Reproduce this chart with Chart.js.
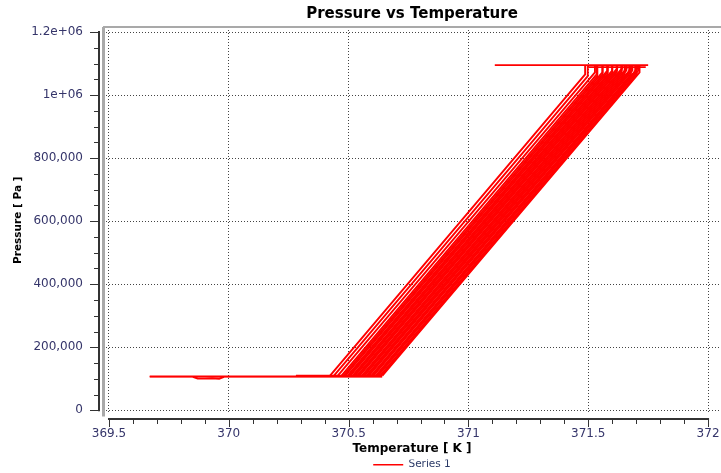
<!DOCTYPE html>
<html><head><meta charset="utf-8">
<script src="https://cdn.jsdelivr.net/npm/chart.js@4"></script>
<style>html,body{margin:0;padding:0;background:#fff;overflow:hidden;} #wrap{width:721px;height:473px;}</style>
</head><body><div id="wrap"><canvas id="c" width="721" height="473"></canvas></div>
<script>
const seriesName = 'Series 1';
const chartTitle = 'Pressure vs Temperature';
const xTitle = 'Temperature [ K ]';
const yTitle = 'Pressure [ Pa ]';

const xTicks = [369.5, 370, 370.5, 371, 371.5, 372];
const xTickLabels = ['369.5', '370', '370.5', '371', '371.5', '372'];
const yTicks = [0, 200000, 400000, 600000, 800000, 1000000, 1200000];
const yTickLabels = ['0', '200,000', '400,000', '600,000', '800,000', '1e+06', '1.2e+06'];

// lower plateau lines
const lowT = [369.67, 370.64];
const lowP = [108000, 108000];
const lowT2 = [369.67, 370.64];
const lowP2 = [106500, 106500];
const lowT3 = [370.28, 370.64];
const lowP3 = [110500, 110500];
// small dip on the lower plateau
const dipT = [369.85, 369.87, 369.90, 369.93, 369.96, 369.98];
const dipP = [106000, 101000, 100500, 102000, 100500, 106000];

// rising lines of the band
const rampStartT = [370.420, 370.438, 370.455, 370.468, 370.478, 370.486, 370.493, 370.500, 370.507, 370.514,
                    370.520, 370.527, 370.533, 370.540, 370.546, 370.553, 370.559, 370.566, 370.572, 370.579,
                    370.585, 370.592, 370.598, 370.604, 370.611, 370.617, 370.623, 370.629, 370.635, 370.641];
const rampStartP = [108000, 109000, 110000, 108000, 109000, 110000, 108000, 109000, 110000, 108000,
                    109000, 110000, 108000, 109000, 110000, 108000, 109000, 110000, 108000, 109000,
                    110000, 108000, 109000, 110000, 108000, 109000, 110000, 108000, 109000, 110000];
const rampEndT = [371.487, 371.498, 371.528, 371.535, 371.538, 371.559, 371.560, 371.580, 371.580, 371.581,
                  371.600, 371.600, 371.621, 371.620, 371.619, 371.641, 371.639, 371.639, 371.660, 371.659,
                  371.652, 371.680, 371.671, 371.684, 371.678, 371.705, 371.696, 371.709, 371.702, 371.714];
const rampEndP = [1066000, 1060000, 1072000, 1066000, 1060000, 1072000, 1066000, 1078000, 1072000, 1066000,
                  1078000, 1072000, 1085000, 1078000, 1072000, 1085000, 1078000, 1072000, 1085000, 1078000,
                  1066000, 1085000, 1072000, 1078000, 1066000, 1085000, 1072000, 1078000, 1066000, 1072000];
const rampTopP = [1095000, 1095000, 1095000, 1095000, 1095000, 1095000, 1095000, 1095000, 1095000, 1095000,
                  1095000, 1095000, 1095000, 1095000, 1095000, 1095000, 1095000, 1095000, 1095000, 1095000,
                  1095000, 1095000, 1095000, 1095000, 1095000, 1095000, 1095000, 1095000, 1095000, 1095000];

// upper plateau lines
const topT = [371.11, 371.75];
const topP = [1095000, 1095000];
const topT2 = [371.50, 371.74];
const topP2 = [1089000, 1089000];

// build one dataset with gaps between pieces
const pts = [];
function addPiece(ts, ps) {
  for (let i = 0; i < ts.length; i++) pts.push({x: ts[i], y: ps[i]});
  pts.push({x: ts[ts.length - 1], y: null});
}
addPiece(lowT, lowP);
addPiece(lowT2, lowP2);
addPiece(lowT3, lowP3);
addPiece(dipT, dipP);
for (let i = 0; i < rampStartT.length; i++) {
  addPiece([rampStartT[i], rampEndT[i], rampEndT[i]], [rampStartP[i], rampEndP[i], rampTopP[i]]);
}
addPiece(topT, topP);
addPiece(topT2, topP2);

const FONT = 'DejaVu Sans, Verdana, sans-serif';

const axisDecor = {
  id: 'axisDecor',
  beforeLayout(chart) {
    const lg = chart.legend;
    if (lg && !lg._tight) {
      const f = lg.fit;
      lg.fit = function () { f.call(this); this.height = Math.max(0, this.height - 7); };
      lg._tight = true;
    }
  },
  beforeDatasetsDraw(chart) {
    const {ctx, chartArea: a} = chart;
    ctx.save();
    ctx.strokeStyle = '#a9a9a9';
    ctx.lineWidth = 2;
    ctx.beginPath();
    ctx.moveTo(a.left, a.top);
    ctx.lineTo(a.right, a.top);
    ctx.stroke();
    ctx.lineWidth = 3;
    ctx.beginPath();
    ctx.moveTo(a.left + 0.5, a.top);
    ctx.lineTo(a.left + 0.5, a.bottom + 3);
    ctx.stroke();
    ctx.restore();
  },
  afterDraw(chart) {
    const {ctx, chartArea: a} = chart;
    const xs = chart.scales.x, ys = chart.scales.y;
    ctx.save();
    ctx.strokeStyle = '#333';
    const ax = a.left - 4;
    const y0 = ys.getPixelForValue(yTicks[0]);
    const y1 = ys.getPixelForValue(yTicks[yTicks.length - 1]);
    ctx.lineWidth = 2;
    ctx.beginPath(); ctx.moveTo(ax, y0 + 1); ctx.lineTo(ax, y1 - 1); ctx.stroke();
    ctx.lineWidth = 1;
    for (let k = 0; k < yTicks.length - 1; k++) {
      for (let j = 0; j < 4; j++) {
        const v = yTicks[k] + (yTicks[k + 1] - yTicks[k]) * j / 4;
        const py = Math.round(ys.getPixelForValue(v)) + 0.5;
        ctx.beginPath(); ctx.moveTo(ax, py); ctx.lineTo(ax - (j === 0 ? 9 : 5), py); ctx.stroke();
      }
    }
    { const py = Math.round(y1) + 0.5; ctx.beginPath(); ctx.moveTo(ax, py); ctx.lineTo(ax - 9, py); ctx.stroke(); }
    const ay = a.bottom + 5.5;
    const x0 = xs.getPixelForValue(xTicks[0]);
    const x1 = xs.getPixelForValue(xTicks[xTicks.length - 1]);
    ctx.lineWidth = 2;
    ctx.beginPath(); ctx.moveTo(x0 - 1, ay); ctx.lineTo(x1 + 1, ay); ctx.stroke();
    ctx.lineWidth = 1;
    for (let k = 0; k < xTicks.length - 1; k++) {
      for (let j = 0; j < 5; j++) {
        const v = xTicks[k] + (xTicks[k + 1] - xTicks[k]) * j / 5;
        const px = Math.round(xs.getPixelForValue(v)) + 0.5;
        ctx.beginPath(); ctx.moveTo(px, ay); ctx.lineTo(px, ay + (j === 0 ? 8 : 5)); ctx.stroke();
      }
    }
    { const px = Math.round(x1) + 0.5; ctx.beginPath(); ctx.moveTo(px, ay); ctx.lineTo(px, ay + 8); ctx.stroke(); }
    ctx.restore();
  }
};

new Chart(document.getElementById('c').getContext('2d'), {
  type: 'scatter',
  data: {
    datasets: [{
      label: seriesName,
      data: pts,
      showLine: true,
      spanGaps: false,
      borderColor: '#ff0000',
      backgroundColor: '#ff0000',
      borderWidth: 1.6,
      segment: {
        borderWidth: c => (c.p0.parsed.y === c.p1.parsed.y ? 1.7 : 1.9)
      },
      pointRadius: 0,
      pointHoverRadius: 0,
      tension: 0
    }]
  },
  options: {
    responsive: false,
    animation: false,
    devicePixelRatio: 1,
    layout: { padding: 0 },
    plugins: {
      title: {
        display: true, text: chartTitle, fullSize: false, color: '#000',
        font: { family: FONT, size: 15, weight: 'bold', lineHeight: 1.2 },
        padding: { top: 5, bottom: 4 }
      },
      legend: {
        position: 'bottom', fullSize: false,
        labels: {
          usePointStyle: true, pointStyle: 'line', pointStyleWidth: 30,
          color: '#2b3a67', font: { family: FONT, size: 10.5 }, padding: 0
        }
      },
      tooltip: { enabled: false }
    },
    scales: {
      x: {
        type: 'linear', min: 369.475, max: 372.054,
        afterBuildTicks: s => { s.ticks = xTicks.map(v => ({ value: v })); },
        afterFit: s => { s.height = 46; s.paddingLeft = 0; s.paddingRight = 0; },
        ticks: {
          autoSkip: false, maxRotation: 0, padding: 13, color: '#35356a',
          font: { family: FONT, size: 12 },
          callback: (v, i) => xTickLabels[i]
        },
        grid: { color: '#444', lineWidth: 1, drawTicks: false },
        border: { display: false, dash: [1, 2] },
        title: {
          display: true, text: xTitle, color: '#000',
          font: { family: FONT, size: 12, weight: 'bold', lineHeight: 1 },
          padding: { top: 0, bottom: 5 }
        }
      },
      y: {
        type: 'linear', min: -10000, max: 1216000,
        afterBuildTicks: s => { s.ticks = yTicks.map(v => ({ value: v })); },
        afterFit: s => { s.width = 103; s.paddingTop = 0; s.paddingBottom = 0; },
        ticks: {
          autoSkip: false, padding: 20, color: '#35356a',
          font: { family: FONT, size: 12 },
          callback: (v, i) => yTickLabels[i]
        },
        grid: { color: '#444', lineWidth: 1, drawTicks: false },
        border: { display: false, dash: [1, 2] },
        title: {
          display: true, text: yTitle, color: '#000',
          font: { family: FONT, size: 10.5, weight: 'bold', lineHeight: 1 },
          padding: { top: 13, bottom: 0 }
        }
      }
    }
  },
  plugins: [axisDecor]
});
</script>
</body></html>
